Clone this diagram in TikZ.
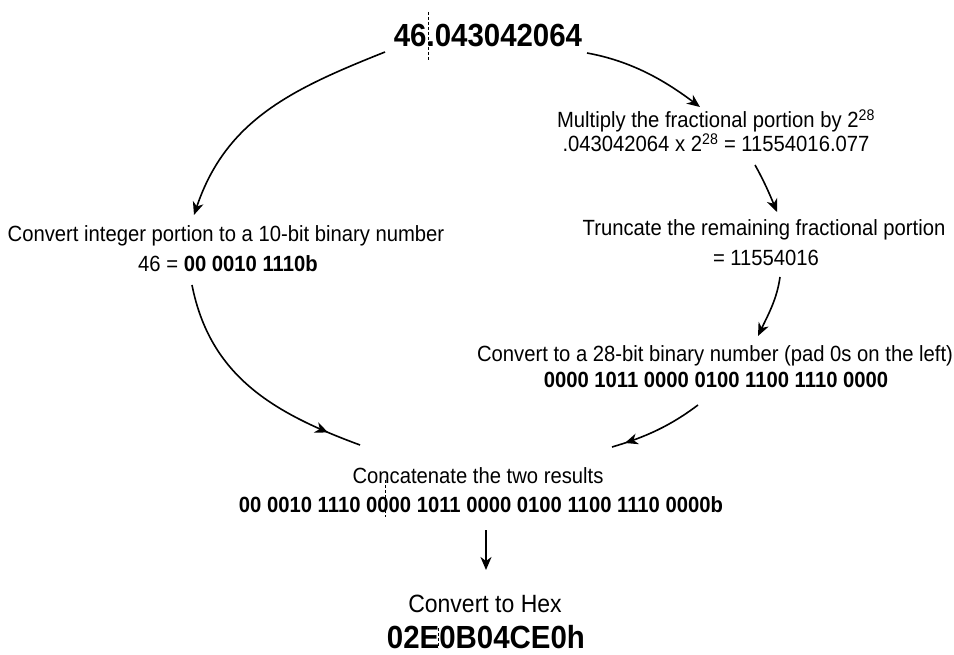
\documentclass[tikz,border=0pt]{standalone}
\usepackage{fontspec}
\setmainfont{Liberation Sans}[FakeStretch=0.92]
\usetikzlibrary{arrows.meta,decorations.markings}
\begin{document}
\begin{tikzpicture}[x=1pt,y=-1pt,
  txt/.style={anchor=base, inner sep=0pt, font=\fontsize{22}{22}\selectfont},
  txtb/.style={anchor=base, inner sep=0pt, font=\fontsize{22}{22}\selectfont\bfseries},
  big/.style={anchor=base, inner sep=0pt, font=\fontsize{32}{32}\selectfont\bfseries},
  mid/.style={anchor=base, inner sep=0pt, font=\fontsize{25}{25}\selectfont},
  conn/.style={line width=1.6pt, -{Stealth[length=13pt,width=11pt,inset=4pt]}},
  connmid/.style={line width=1.6pt, postaction={decorate},
    decoration={markings, mark=at position 0.86 with {\arrow{Stealth[length=13pt,width=11pt,inset=4pt]}}}},
  guide/.style={line width=0.8pt, dash pattern=on 3pt off 2pt}]
\fill[white] (0,0) rectangle (954,655);
\useasboundingbox (0,0) rectangle (954,655);

% texts
\node[big] (n46) at (488,47) {46.043042064};
\node[txt] (mul1) at (716,128) {Multiply the fractional portion by 2\textsuperscript{28}};
\node[txt] (mul2) at (716,152) {.043042064 x 2\textsuperscript{28} = 11554016.077};
\node[txt] (tr1) at (764,236) {Truncate the remaining fractional portion};
\node[txt] (tr2) at (766,266) {= 11554016};
\node[txt] (c28a) at (715,362) {Convert to a 28-bit binary number (pad 0s on the left)};
\node[txtb] (c28b) at (716,387) {0000 1011 0000 0100 1100 1110 0000};
\node[txt] (int1) at (226,242) {Convert integer portion to a 10-bit binary number};
\node[txt] (int2) at (228,272) {46 = \textbf{00 0010 1110b}};
\node[txt] (cat1) at (478,483) {Concatenate the two results};
\node[txtb] (cat2) at (481,512) {00 0010 1110 0000 1011 0000 0100 1100 1110 0000b};
\node[mid] (hex1) at (485,612) {Convert to Hex};
\node[big] (hex2) at (486,648) {02E0B04CE0h};

% guide lines
\coordinate (g1a) at (428,12); \coordinate (g1b) at (428,60);
\coordinate (g2a) at (385,480); \coordinate (g2b) at (385,517);
\coordinate (g3a) at (438,628); \coordinate (g3b) at (438,648);
\draw[guide] (g1a) -- (g1b);
\draw[guide] (g2a) -- (g2b);
\draw[guide] (g3a) -- (g3b);

% arc end points
\coordinate (a1s) at (385,52);  \coordinate (a1e) at (194,215);
\coordinate (a2s) at (587,53);  \coordinate (a2e) at (700,107);
\coordinate (a3s) at (755,165); \coordinate (a3e) at (777,212);
\coordinate (a4s) at (780,277); \coordinate (a4e) at (758,336);
\coordinate (a5s) at (698,405); \coordinate (a5e) at (612,447);
\coordinate (a6s) at (192,285); \coordinate (a6e) at (360,445);
\coordinate (a7s) at (486,530); \coordinate (a7e) at (486,570);

\draw[conn] (a1s) .. controls (292,89) and (226,120) .. (a1e);
\draw[conn] (a2s) .. controls (631,61) and (664,80) .. (a2e);
\draw[conn] (a3s) .. controls (764,181) and (770,195) .. (a3e);
\draw[conn] (a4s) .. controls (777,299) and (768,315) .. (a4e);
\draw[connmid] (a5s) .. controls (670,426) and (646,437) .. (a5e);
\draw[connmid] (a6s) .. controls (210,376) and (273,413) .. (a6e);
\draw[conn] (a7s) -- (a7e);
\end{tikzpicture}
\end{document}
